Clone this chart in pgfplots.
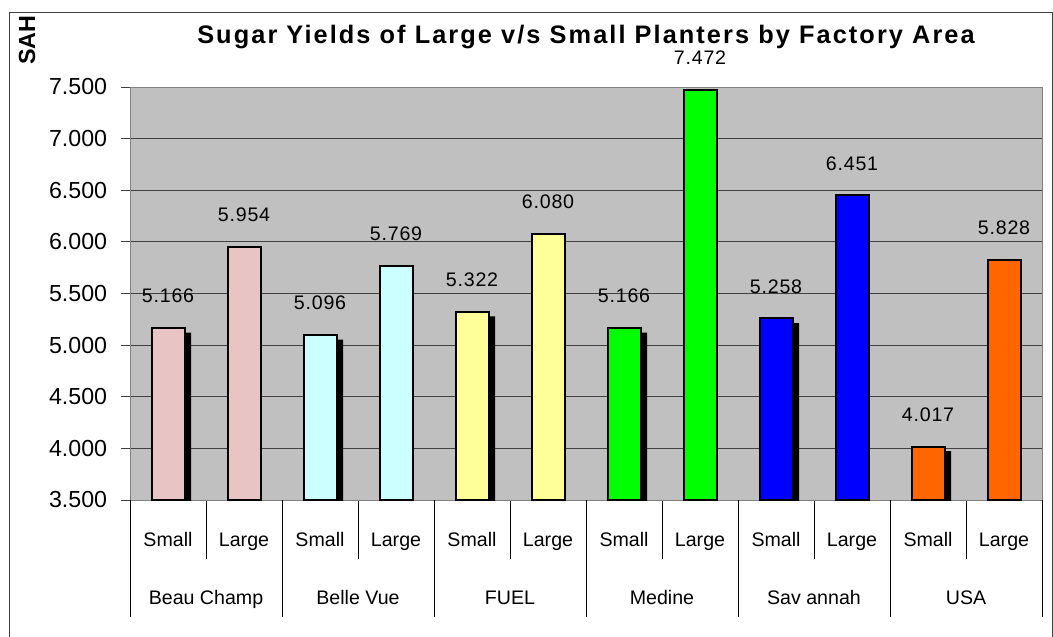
\documentclass[border=0pt]{standalone}
\usepackage{pgfplots}
\pgfplotsset{compat=1.18}
\usepackage{fontspec}
\setmainfont{Liberation Sans}
\newfontfamily\titlefont[LetterSpace=8.2]{Liberation Sans}
\newfontfamily\labelfont[LetterSpace=4]{Liberation Sans}
\definecolor{bgc}{HTML}{C0C0C0}
\definecolor{cBC}{RGB}{233,196,196}
\definecolor{cBV}{HTML}{CCFFFF}
\definecolor{cFU}{HTML}{FFFF99}
\definecolor{cME}{HTML}{00FF00}
\definecolor{cSA}{HTML}{0000FF}
\definecolor{cUS}{HTML}{FF6600}
\begin{document}
\begin{tikzpicture}
\useasboundingbox (0,0) rectangle (789.75pt,477pt);
\draw[black!75, line width=0.75pt] (6.75pt,-10pt) rectangle (789pt,467.25pt);
\begin{axis}[
  at={(97.5pt,102pt)}, anchor=south west,
  scale only axis, width=684pt, height=309.75pt,
  xmin=-0.5, xmax=11.5, ymin=3.5, ymax=7.5,
  ytick={3.5,4,...,7.5},
  axis background/.style={fill=bgc},
  axis line style={draw=black!50, line width=0.75pt},
  ymajorgrids, grid style={black!75, line width=0.75pt},
  tick align=outside,
  major tick length=6.75pt,
  minor tick length=44.25pt,
  ytick pos=left, xtick pos=bottom,
  y tick style={black!75, line width=0.75pt},
  major x tick style={draw=none},
  minor x tick style={black, line width=0.75pt},
  xtick={0,...,11},
  minor x tick num=1,
  xticklabels={Small,Large,Small,Large,Small,Large,Small,Large,Small,Large,Small,Large},
  xticklabel style={anchor=base, yshift=-28pt, font=\fontsize{14.7}{17}\selectfont},
  extra x ticks={-0.5,1.5,3.5,5.5,7.5,9.5,11.5},
  extra x tick labels={Beau Champ,Belle Vue,FUEL,Medine,Sav annah,USA,{}},
  extra x tick style={grid=none, major tick length=87.75pt,
     major x tick style={draw=black, line width=0.75pt},
     xticklabel style={anchor=base, xshift=57pt, yshift=37.5pt, font=\fontsize{14.7}{17}\selectfont}},
  yticklabel style={font=\fontsize{17.4}{20}\selectfont, xshift=-6.9pt},
  /pgf/number format/.cd, fixed, fixed zerofill, precision=3, assume math mode=true,
  /pgfplots/.cd,
  ybar, bar width=24.75pt,
  title={Sugar Yields of Large v/s Small Planters by Factory Area},
  every axis title/.style={at={(axis description cs:0.5,1.122)}, anchor=center, font=\titlefont\bfseries\fontsize{19}{22}\selectfont},
  ylabel={SAH},
  every axis y label/.style={at={(axis description cs:-0.1129,1.1138)}, rotate=90, anchor=center, font=\bfseries\fontsize{17.5}{20}\selectfont},
  every node near coord/.append style={anchor=center, yshift=24pt, font=\labelfont\fontsize{14.7}{17}\selectfont, /pgf/number format/.cd, fixed, fixed zerofill, precision=3, assume math mode=true},
]
% shadows of the Small bars
\addplot[bar shift=0pt, fill=black, draw=none, xshift=5pt, yshift=-3.4pt]
  coordinates {(0,5.166) (2,5.096) (4,5.322) (6,5.166) (8,5.258) (10,4.017)};
\addplot[bar shift=0pt, fill=cBC, draw=black, line width=1.5pt, nodes near coords]
  coordinates {(0,5.166) (1,5.954)};
\addplot[bar shift=0pt, fill=cBV, draw=black, line width=1.5pt, nodes near coords]
  coordinates {(2,5.096) (3,5.769)};
\addplot[bar shift=0pt, fill=cFU, draw=black, line width=1.5pt, nodes near coords]
  coordinates {(4,5.322) (5,6.080)};
\addplot[bar shift=0pt, fill=cME, draw=black, line width=1.5pt, nodes near coords]
  coordinates {(6,5.166) (7,7.472)};
\addplot[bar shift=0pt, fill=cSA, draw=black, line width=1.5pt, nodes near coords]
  coordinates {(8,5.258) (9,6.451)};
\addplot[bar shift=0pt, fill=cUS, draw=black, line width=1.5pt, nodes near coords]
  coordinates {(10,4.017) (11,5.828)};
\end{axis}
\end{tikzpicture}
\end{document}
